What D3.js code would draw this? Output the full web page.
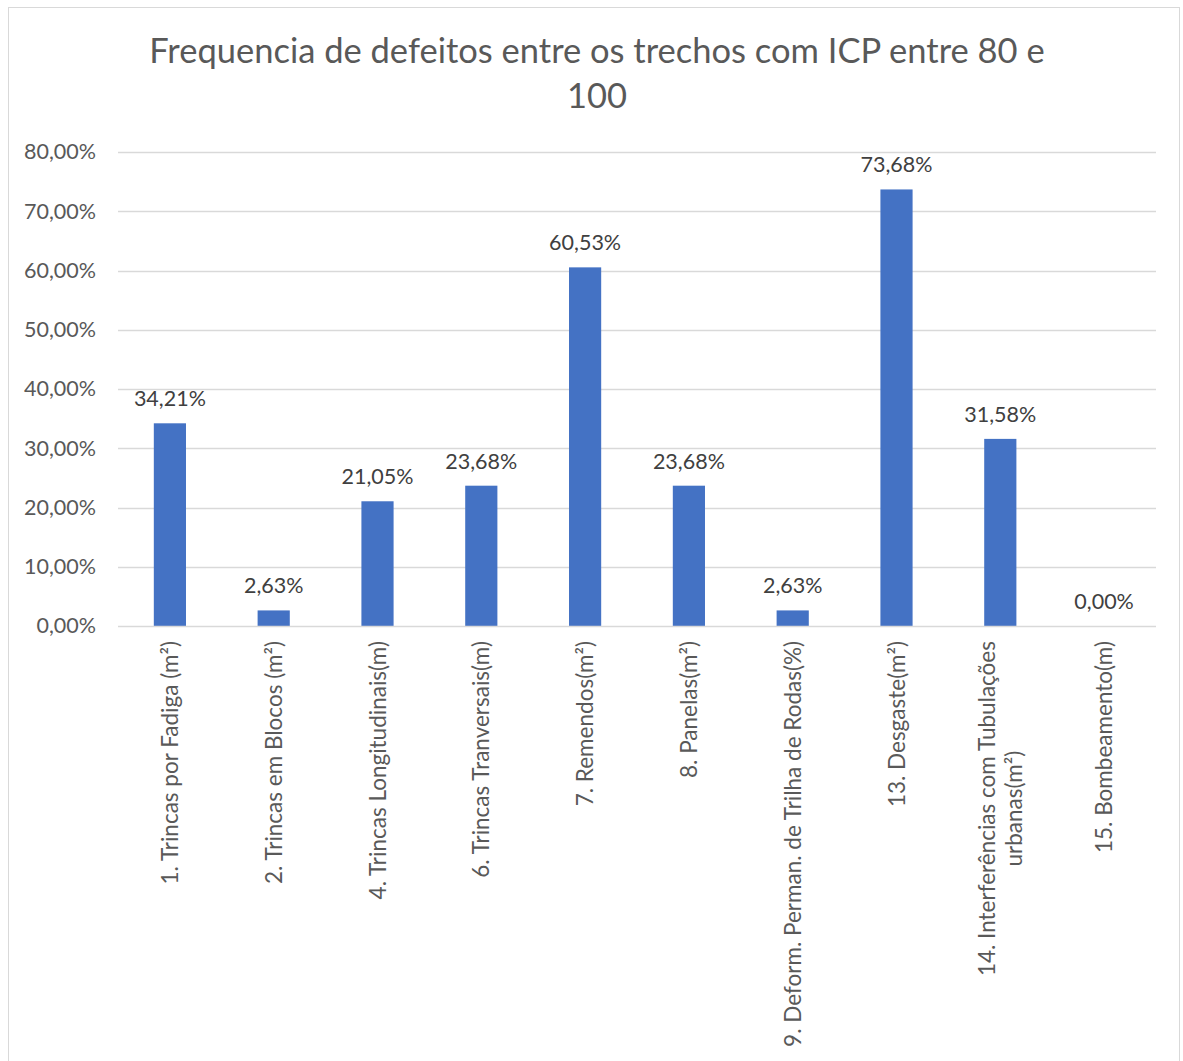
<!DOCTYPE html>
<html>
<head>
<meta charset="utf-8">
<script src="https://cdn.jsdelivr.net/npm/d3@7"></script>
<style>
  html, body { margin: 0; padding: 0; background: #fff; }
  svg { display: block; font-family: Lato, "Open Sans", sans-serif; }
</style>
</head>
<body>
<svg id="chart" width="1183" height="1061"></svg>
<script>
// Defect categories (each entry is a list of label lines)
const categories = [
  ["1. Trincas por Fadiga (m²)"],
  ["2. Trincas em Blocos (m²)"],
  ["4. Trincas Longitudinais(m)"],
  ["6. Trincas Tranversais(m)"],
  ["7. Remendos(m²)"],
  ["8. Panelas(m²)"],
  ["9. Deform. Perman. de Trilha de Rodas(%)"],
  ["13. Desgaste(m²)"],
  ["14. Interferências com Tubulações", "urbanas(m²)"],
  ["15. Bombeamento(m)"]
];
// Frequency of each defect, in percent
const values = [34.21, 2.63, 21.05, 23.68, 60.53, 23.68, 2.63, 73.68, 31.58, 0.00];
// Value axis ticks
const yTicks = [0, 10, 20, 30, 40, 50, 60, 70, 80];
const titleLines = ["Frequencia de defeitos entre os trechos com ICP entre 80 e", "100"];

const svg = d3.select("#chart");
const W = 1183, H = 1061;

// chart frame
svg.append("rect")
  .attr("x", 8.5).attr("y", 7.5)
  .attr("width", W - 12).attr("height", H)
  .attr("fill", "#fff").attr("stroke", "#d9d9d9").attr("stroke-width", 1);

const plot = { left: 118, right: 1156, top: 152, bottom: 626 };

const x = d3.scaleBand()
  .domain(d3.range(categories.length))
  .range([plot.left, plot.right])
  .paddingInner(0.69).paddingOuter(0.345);

const y = d3.scaleLinear().domain([0, 80]).range([plot.bottom, plot.top]);

const fmt = v => v.toFixed(2).replace(".", ",") + "%";

// title
svg.append("text")
  .attr("x", 597).attr("text-anchor", "middle")
  .attr("fill", "#595959").attr("font-size", 34.5)
  .selectAll("tspan").data(titleLines).join("tspan")
  .attr("x", 597).attr("y", (d, i) => 63 + i * 45).text(d => d);

// gridlines
svg.append("g").selectAll("line").data(yTicks.filter(t => t > 0)).join("line")
  .attr("x1", plot.left).attr("x2", plot.right)
  .attr("y1", d => Math.round(y(d)) + 0.5).attr("y2", d => Math.round(y(d)) + 0.5)
  .attr("stroke", "#d9d9d9").attr("stroke-width", 1.3);

// y axis labels
const yAxis = d3.axisLeft(y).tickValues(yTicks).tickFormat(fmt).tickSize(0).tickPadding(22);
const gy = svg.append("g").attr("transform", `translate(${plot.left},0)`).call(yAxis);
gy.select(".domain").remove();
gy.selectAll("text").attr("fill", "#595959").attr("font-size", 21.5)
  .attr("font-family", "Lato, 'Open Sans', sans-serif");

// bars
svg.append("g").selectAll("rect").data(values).join("rect")
  .attr("x", (d, i) => x(i)).attr("width", x.bandwidth())
  .attr("y", d => y(d)).attr("height", d => y(0) - y(d))
  .attr("fill", "#4472c4");

// baseline
svg.append("line")
  .attr("x1", plot.left).attr("x2", plot.right)
  .attr("y1", plot.bottom + 0.5).attr("y2", plot.bottom + 0.5)
  .attr("stroke", "#d9d9d9").attr("stroke-width", 1.5);

// data labels
svg.append("g").selectAll("text").data(values).join("text")
  .attr("x", (d, i) => x(i) + x.bandwidth() / 2)
  .attr("y", d => y(d) - 17)
  .attr("text-anchor", "middle").attr("fill", "#404040").attr("font-size", 21.5)
  .text(d => fmt(d));

// category labels, rotated
const cat = svg.append("g").selectAll("text").data(categories).join("text")
  .attr("transform", (d, i) => {
    const cx = x(i) + x.bandwidth() / 2;
    return `translate(${cx},641) rotate(-90)`;
  })
  .attr("fill", "#595959").attr("font-size", 22.5);
cat.each(function(lines) {
  const t = d3.select(this);
  const n = lines.length;
  lines.forEach((ln, j) => {
    t.append("tspan")
      .attr("x", 0)
      .attr("y", (j - (n - 1) / 2) * 27 + 8)
      .attr("text-anchor", j === 0 ? "end" : "middle")
      .text(ln);
  });
});
// center the wrapped second line under the first one
cat.filter(d => d.length > 1).each(function() {
  const spans = d3.select(this).selectAll("tspan").nodes();
  const w = spans[0].getComputedTextLength();
  d3.select(spans[1]).attr("x", -w / 2);
});
</script>
</body>
</html>
